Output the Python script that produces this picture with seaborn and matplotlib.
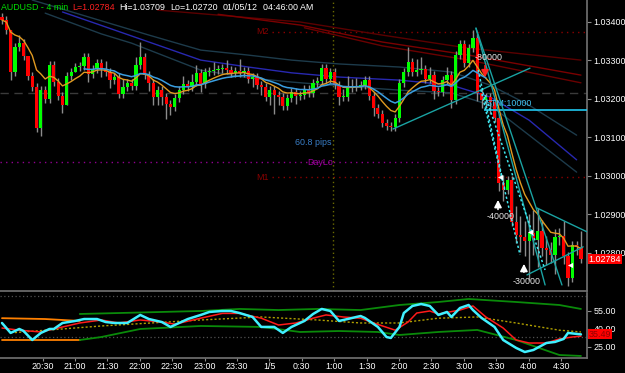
import numpy as np
import pandas as pd
import matplotlib
matplotlib.use("Agg")
import matplotlib.pyplot as plt
import seaborn as sns
from matplotlib.transforms import blended_transform_factory

# ---------------- data ----------------
first_open = 1.03413
close = [1.03405, 1.03379, 1.03270, 1.03335, 1.03345, 1.03312, 1.03260, 1.03231, 1.03125, 1.03223,
         1.03200, 1.03288, 1.03244, 1.03208, 1.03184, 1.03260, 1.03270, 1.03283, 1.03286, 1.03309,
         1.03265, 1.03278, 1.03294, 1.03278, 1.03270, 1.03249, 1.03257, 1.03213, 1.03231, 1.03242,
         1.03234, 1.03288, 1.03309, 1.03262, 1.03242, 1.03205, 1.03223, 1.03205, 1.03187, 1.03179,
         1.03203, 1.03223, 1.03239, 1.03231, 1.03244, 1.03268, 1.03239, 1.03271, 1.03273, 1.03275,
         1.03278, 1.03281, 1.03275, 1.03268, 1.03273, 1.03268, 1.03273, 1.03252, 1.03257, 1.03236,
         1.03231, 1.03205, 1.03223, 1.03210, 1.03205, 1.03182, 1.03203, 1.03218, 1.03208, 1.03210,
         1.03226, 1.03216, 1.03242, 1.03247, 1.03281, 1.03252, 1.03270, 1.03236, 1.03205, 1.03206,
         1.03229, 1.03231, 1.03234, 1.03236, 1.03249, 1.03208, 1.03177, 1.03161, 1.03138, 1.03130,
         1.03127, 1.03151, 1.03242, 1.03270, 1.03296, 1.03270, 1.03275, 1.03278, 1.03252, 1.03262,
         1.03221, 1.03218, 1.03249, 1.03262, 1.03197, 1.03314, 1.03343, 1.03294, 1.03332, 1.03358,
         1.03216, 1.03197, 1.03205, 1.03192, 1.03151, 1.02982, 1.02964, 1.02990, 1.02881, 1.02847,
         1.02842, 1.02831, 1.02852, 1.02834, 1.02857, 1.02813, 1.02808, 1.02795, 1.02842, 1.02844,
         1.02792, 1.02735, 1.02821, 1.02816, 1.02784]
upper_wick_pips = [1, 1, 0, 1, 2, 1, 0, 1, 1, 1, 1, 1, 1, 1, 1, 1, 1, 1, 1, 1,
                   1, 1, 1, 1, 2, 1, 1, 1, 2, 1, 1, 2, 4, 1, 1, 1, 1, 1, 1, 1,
                   1, 1, 2, 1, 2, 2, 1, 1, 1, 2, 1, 1, 2, 1, 1, 3, 1, 1, 1, 1,
                   1, 1, 1, 1, 1, 1, 1, 1, 1, 1, 1, 1, 1, 1, 1, 1, 1, 1, 1, 2,
                   3, 2, 2, 1, 1, 1, 1, 1, 1, 1, 1, 1, 1, 1, 4, 1, 3, 3, 1, 2,
                   1, 1, 1, 2, 1, 1, 1, 1, 1, 2, 1, 1, 1, 1, 1, 1, 2, 1, 1, 4,
                   5, 4, 5, 6, 6, 3, 3, 2, 2, 2, 4, 1, 1, 1, 4]
lower_wick_pips = [1, 1, 2, 1, 1, 1, 1, 1, 1, 2, 1, 1, 1, 1, 2, 0, 1, 0, 1, 1,
                   2, 1, 1, 2, 1, 2, 1, 1, 1, 1, 1, 1, 1, 1, 2, 2, 2, 2, 4, 2,
                   1, 1, 1, 1, 1, 1, 2, 1, 1, 1, 1, 1, 1, 1, 1, 1, 1, 1, 2, 1,
                   2, 1, 2, 5, 2, 1, 1, 1, 2, 1, 1, 1, 1, 1, 1, 1, 1, 1, 2, 1,
                   1, 1, 1, 1, 1, 1, 2, 1, 1, 1, 1, 1, 1, 1, 1, 1, 1, 1, 1, 1,
                   2, 1, 1, 1, 2, 1, 1, 1, 1, 1, 2, 2, 2, 3, 1, 2, 3, 1, 1, 2,
                   4, 4, 10, 4, 7, 2, 4, 2, 5, 2, 2, 2, 1, 2, 1]

# long moving-average / envelope lines (bar index, price)
band_up_bar = [7, 23, 34, 46, 57, 67, 78, 92, 104, 113, 122, 133]
band_up = [1.03457, 1.03403, 1.03366, 1.03327, 1.03314, 1.03301, 1.03291, 1.03283, 1.03270, 1.03236, 1.03184, 1.03106]
band_mid_bar = [14, 23, 34, 46, 57, 67, 78, 92, 104, 113, 122, 133]
band_mid = [1.03426, 1.03391, 1.03348, 1.03301, 1.03283, 1.03268, 1.03257, 1.03249, 1.03236, 1.03205, 1.03145, 1.03042]
band_lo_bar = [10, 23, 30, 46, 57, 67, 78, 92, 104, 113, 122, 133]
band_lo = [1.03423, 1.03369, 1.03345, 1.03275, 1.03255, 1.03244, 1.03234, 1.03223, 1.03216, 1.03184, 1.03106, 1.03010]
red1_bar = [36, 69, 88, 108, 134]
red1 = [1.03431, 1.03400, 1.03366, 1.03332, 1.03301]
red2_bar = [50, 69, 88, 108, 134]
red2 = [1.03420, 1.03392, 1.03348, 1.03314, 1.03262]
red3_bar = [70, 88, 108, 134]
red3 = [1.03385, 1.03338, 1.03301, 1.03242]

# drawn trend lines (bar index pairs, price pairs)
trend_solid = [([90.5, 122.2], [1.03122, 1.03280]),
               ([109.7, 129.6], [1.03384, 1.02717]),
               ([109.7, 125.7], [1.03384, 1.02717]),
               ([123.8, 135.4], [1.02917, 1.02855]),
               ([121.5, 134.5], [1.02743, 1.02816])]
trend_dotted = [([110.2, 116.4], [1.03275, 1.02964]),
                ([110.6, 119.9], [1.03236, 1.02795]),
                ([111.8, 125.7], [1.03210, 1.02756])]

# levels
level_m2 = 1.03374
level_m1 = 1.02997
level_daylo = 1.03036
level_dash = 1.03216
level_stm = 1.03171
last_price = 1.02784

# oscillator panel
rsi_bar = [0, 2, 4, 5, 7, 9, 11, 12, 14, 17, 19, 22, 24, 26, 29, 32, 34, 37, 39, 41,
           43, 46, 48, 51, 53, 55, 58, 60, 63, 65, 67, 70, 72, 74, 76, 78, 80, 82, 83, 84,
           87, 89, 90, 92, 93, 95, 97, 99, 101, 103, 104, 106, 108, 109, 111, 114, 116, 119, 121, 123,
           126, 128, 130, 131, 134]
rsi_val = [45, 36.7, 40, 38.3, 30.8, 36.7, 40, 40, 45, 46.7, 48.3, 48.3, 45.8, 45, 45, 51.7, 48.3, 45.8, 41.7, 45,
           48.3, 51.7, 54.2, 55, 55, 53.3, 50, 41.7, 41.7, 36.7, 41.7, 46.7, 52.5, 56.7, 55, 46.7, 48.3, 50, 50.8, 49.2,
           41.7, 33.3, 32.5, 41.7, 53.3, 59.2, 60.8, 59.2, 51.7, 54.2, 50, 57.5, 60, 55.8, 49.2, 41.7, 30.8, 24.2, 20.8, 22.5,
           28.3, 29.2, 31.7, 36.7, 35.49]
sig_bar = [0, 4, 9, 13, 18, 23, 27, 32, 37, 40, 46, 51, 55, 60, 64, 68, 72, 75, 79, 83,
           86, 91, 94, 96, 99, 101, 106, 109, 112, 116, 119, 122, 126, 129, 132, 134]
sig_val = [40.8, 39, 37.5, 40.8, 45, 47.5, 45, 47.5, 45.8, 44, 49, 53, 53, 49, 43.3, 45, 49, 51.7, 50, 49,
           45, 39, 45.8, 53.3, 55, 52.5, 55.8, 59.2, 50, 40.8, 30.8, 28.3, 28.3, 31.7, 33.3, 34]
slow_bar = [3, 23, 46, 60, 73, 83, 92, 101, 110, 119, 129, 134]
slow_val = [37, 42.5, 47.5, 50, 47.5, 45, 45, 49, 50, 45, 39, 37.5]
bb_up_bar = [18, 27, 46, 55, 64, 73, 83, 92, 101, 108, 119, 129, 134]
bb_up = [52.5, 53.3, 55, 56.7, 55.8, 56.7, 55.8, 60, 62.5, 65, 62.5, 60, 56.7]
bb_lo_bar = [18, 23, 32, 46, 60, 69, 78, 87, 92, 101, 110, 119, 129, 134]
bb_lo = [30.8, 33.3, 40, 42.5, 41.7, 37.5, 38.3, 37.5, 35, 37.5, 39.2, 30.8, 18.3, 17.5]
early_up_bar = [0, 10, 18]
early_up = [49, 48.3, 46.7]
early_lo_bar = [0, 10, 18]
early_lo = [30.8, 30.8, 30.8]
osc_levels = [67.5, 33.3]

price_ticks = [1.034, 1.033, 1.032, 1.031, 1.030, 1.029, 1.028]
osc_ticks = [55, 40, 25]
time_tick_bars = [9.4 + 7.5 * k for k in range(17)]
time_labels = ["20:30", "21:00", "21:30", "22:00", "22:30", "23:00", "23:30", "1/5", "0:30",
               "1:00", "1:30", "2:00", "2:30", "3:00", "3:30", "4:00", "4:30"]

# ---------------- style ----------------
sns.set_theme(style="dark", rc={"axes.facecolor": "black", "figure.facecolor": "black",
                                "axes.edgecolor": "#5a5a5a", "axes.grid": False})
plt.rcParams["font.family"] = ["Liberation Sans", "DejaVu Sans"]
FS, HFS = 6.4, 6.4

W, H = 625, 373
fig = plt.figure(figsize=(W / 100, H / 100), dpi=100)
ax = fig.add_axes([0, (H - 291) / H, 587 / W, 291 / H])
ax2 = fig.add_axes([0, (H - 358) / H, 587 / W, (358 - 293) / H])

n = len(close)
idx = np.arange(n)
c = np.array(close)
o = np.array([first_open] + close[:-1])
pip = 0.0001
hi = np.maximum(o, c) + np.array(upper_wick_pips) * pip
lo = np.minimum(o, c) - np.array(lower_wick_pips) * pip

xmin, xmax = -0.46, 135.4
ax.set_xlim(xmin, xmax)
ax.set_ylim(1.027013, 1.034571)
ax2.set_xlim(xmin, xmax)
ax2.set_ylim(15.8, 70)

def line(a, xs, ys, color, lw=1.0, ls="-", z=2):
    df = pd.DataFrame({"x": xs, "y": ys})
    sns.lineplot(data=df, x="x", y="y", ax=a, color=color, linewidth=lw, linestyle=ls,
                 sort=False, estimator=None, zorder=z, legend=False)

# envelope lines
line(ax, band_up_bar, band_up, "#1d3b4b", 1.0)
line(ax, band_mid_bar, band_mid, "#2828b0", 1.0)
line(ax, band_lo_bar, band_lo, "#1d3b4b", 1.0)
line(ax, red1_bar, red1, "#5a0000", 1.0)
line(ax, red2_bar, red2, "#7a0000", 1.0)
line(ax, red3_bar, red3, "#6a0000", 1.0)

# levels
ax.axhline(level_dash, color="#3a3a3a", lw=1.0, ls=(0, (6, 4)), zorder=1)
ax.hlines(level_m2, 62.5, xmax, color="#8a0000", lw=1.0, ls=(0, (1, 3)), zorder=1)
ax.hlines(level_m1, 62.5, xmax, color="#8a0000", lw=1.0, ls=(0, (1, 3)), zorder=1)
ax.hlines(level_daylo, xmin, 114, color="#900090", lw=1.0, ls=(0, (1, 3)), zorder=1)
ax.axvline(76.6, color="#6a6a00", lw=1.0, ls=(0, (1, 2)), zorder=1)
ax.hlines(level_stm, 111.5, xmax, color="#20c8f0", lw=1.2, zorder=5)

# candles
ax.vlines(idx, lo, hi, color="#8c8c8c", lw=1.0, zorder=3)
body_lo = np.minimum(o, c)
body_h = np.maximum(np.abs(c - o), 0.000025)
cols = np.where(c >= o, "#00ff00", "#ff0000")
ax.bar(idx, body_h, bottom=body_lo, width=0.74, color=cols, edgecolor="none", zorder=4)

# short moving averages derived from closes
s = pd.Series(close)
ema_fast = s.ewm(span=9, adjust=False).mean()
ema_mid = s.ewm(span=18, adjust=False).mean()
line(ax, idx, ema_fast.values, "#e09a20", 1.0, z=5)
seg = slice(19, 113)
line(ax, idx[seg], ema_mid.values[seg], "#3a9ee0", 1.1, z=5)

# trend lines
for xs, ys in trend_solid:
    line(ax, xs, ys, "#1aa3a3", 1.0, z=6)
for xs, ys in trend_dotted:
    line(ax, xs, ys, "#40e8f0", 1.1, ls=(0, (1.5, 1.5)), z=6)

# annotations
ax.text(109.5, 1.03309, "-80000", color="#e6e6e6", fontsize=FS, va="center", ha="left", zorder=8)
ax.text(115.5, 1.02894, "-40000", color="#e6e6e6", fontsize=FS, va="center", ha="center", zorder=8)
ax.text(121.5, 1.02727, "-30000", color="#e6e6e6", fontsize=FS, va="center", ha="center", zorder=8)
ax.text(111.8, 1.03188, "STM:10000", color="#40c0f0", fontsize=FS, va="center", ha="left", zorder=8)
ax.text(72, 1.03086, "60.8 pips", color="#3a7fc8", fontsize=FS, va="center", ha="center", zorder=8)
ax.text(73.6, 1.03036, "DayLo", color="#a000a0", fontsize=FS, va="center", ha="center", zorder=8)
ax.text(60.4, 1.02997, "M1", color="#8a0000", fontsize=FS, va="center", ha="center", zorder=8)
ax.text(60.4, 1.03374, "M2", color="#8a0000", fontsize=FS, va="center", ha="center", zorder=8)
arrow_kw = dict(arrowstyle="-|>,head_length=0.35,head_width=0.18", lw=1.2)
ax.annotate("", xy=(114.8, 1.02945), xytext=(114.8, 1.02906),
            arrowprops=dict(color="white", **arrow_kw), zorder=8)
ax.annotate("", xy=(120.8, 1.02779), xytext=(120.8, 1.02743),
            arrowprops=dict(color="white", **arrow_kw), zorder=8)
ax.annotate("", xy=(111.8, 1.03249), xytext=(111.8, 1.03294),
            arrowprops=dict(color="#ff2020", **arrow_kw), zorder=8)
ax.scatter([115.3, 122.2, 131.5], [1.02997, 1.02855, 1.02769], marker="<", s=14,
           color="white", zorder=9, linewidths=0)

# oscillator
for lv in osc_levels:
    ax2.axhline(lv, color="#505050", lw=0.9, ls=(0, (1, 2)), zorder=1)
line(ax2, early_up_bar, early_up, "#ff8000", 1.3)
line(ax2, early_lo_bar, early_lo, "#ff8000", 1.3)
line(ax2, bb_up_bar, bb_up, "#0a8a0a", 1.3)
line(ax2, bb_lo_bar, bb_lo, "#0a8a0a", 1.3)
line(ax2, slow_bar, slow_val, "#b0a000", 1.0, ls=(0, (1.5, 1.5)))
line(ax2, sig_bar, sig_val, "#ff1a1a", 1.1, z=3)
line(ax2, rsi_bar, rsi_val, "#40f0ff", 1.8, z=4)

# axes decoration
for a in (ax, ax2):
    a.set_xlabel("")
    a.set_ylabel("")
    for sp in ("left", "top"):
        a.spines[sp].set_visible(False)
    a.spines["right"].set_color("#6e6e6e")
    a.spines["bottom"].set_color("#6e6e6e")
    a.yaxis.tick_right()
    a.tick_params(axis="y", colors="#8c8c8c", labelcolor="white", labelsize=FS,
                  length=3, width=0.8, pad=1.5, right=True, left=False)

ax.set_yticks(price_ticks)
ax.set_yticklabels([f"{v:.5f}" for v in price_ticks])
ax.set_xticks([])
ax2.set_yticks(osc_ticks)
ax2.set_yticklabels([f"{v:.2f}" for v in osc_ticks])
ax2.set_xticks(time_tick_bars)
ax2.set_xticklabels(time_labels)
ax2.tick_params(axis="x", colors="#8c8c8c", labelcolor="white", labelsize=FS,
                length=2, width=0.8, pad=1.0, bottom=True)

trans = blended_transform_factory(ax.transAxes, ax.transData)
ax.text(1.003, last_price, f"{last_price:.5f}", transform=trans, color="white", fontsize=FS,
        va="center", ha="left", zorder=10, clip_on=False,
        bbox=dict(boxstyle="square,pad=0.06", fc="#ff0000", ec="none"))
trans2 = blended_transform_factory(ax2.transAxes, ax2.transData)
ax2.text(1.003, rsi_val[-1], f"{rsi_val[-1]:.2f}", transform=trans2, color="#900000", fontsize=FS,
         va="center", ha="left", zorder=10, clip_on=False,
         bbox=dict(boxstyle="square,pad=0.06", fc="#ff0000", ec="none"))

# header
hy = 1 - 7 / H
fig.text(1 / W, hy, "AUDUSD - 4 min", color="#00e000", fontsize=HFS, va="center", ha="left")
fig.text(72 / W, hy, "L=1.02784", color="#ff2020", fontsize=HFS, va="center", ha="left")
fig.text(119 / W, hy, "Hi=1.03709", color="white", fontsize=HFS, va="center", ha="left")
fig.text(170 / W, hy, "Lo=1.02720", color="white", fontsize=HFS, va="center", ha="left")
fig.text(223 / W, hy, "01/05/12", color="white", fontsize=HFS, va="center", ha="left")
fig.text(263 / W, hy, "04:46:00 AM", color="white", fontsize=HFS, va="center", ha="left")

fig.savefig("out.png", dpi=100, facecolor="black")
